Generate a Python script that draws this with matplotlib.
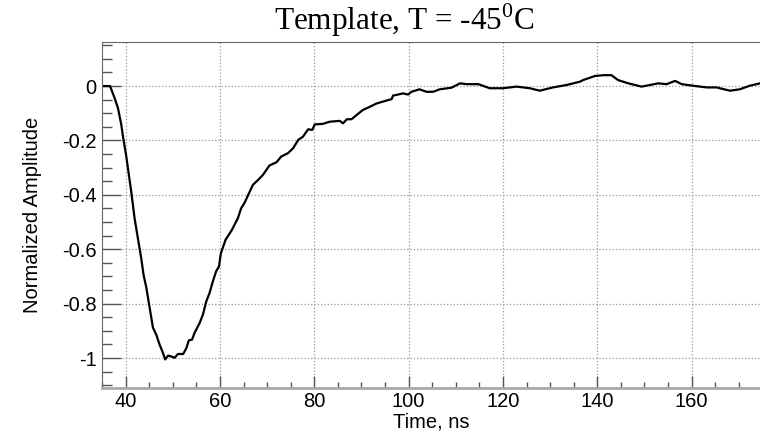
import matplotlib
matplotlib.use("Agg")
import matplotlib.pyplot as plt
from matplotlib.ticker import MultipleLocator

# Digitised template pulse (time in ns, normalised amplitude)
time_ns = [35.0, 36.7, 37.7, 38.4, 39.1, 39.4, 40.1, 40.7, 41.2, 41.9,
           42.6, 43.3, 43.8, 44.4, 45.1, 45.8, 46.5, 47.2, 47.9, 48.4,
           49.0, 49.7, 50.4, 51.1, 52.2, 52.9, 53.4, 54.1, 54.6, 55.7,
           56.4, 57.1, 57.8, 58.5, 59.2, 59.8, 60.2, 61.2, 62.5, 63.8,
           64.5, 65.2, 66.0, 67.0, 68.1, 69.1, 70.5, 72.0, 73.0, 74.4,
           75.5, 76.6, 77.6, 78.7, 79.6, 80.1, 81.8, 83.3, 85.4, 86.1,
           86.9, 87.9, 89.0, 90.3, 91.8, 93.2, 94.6, 96.4, 96.7, 97.8,
           98.8, 99.9, 100.6, 102.3, 103.8, 105.2, 106.6, 109.1, 110.9, 112.3,
           114.8, 117.2, 120.0, 122.9, 125.7, 127.8, 130.6, 133.5, 134.9, 136.3,
           137.0, 139.5, 141.3, 143.0, 144.4, 146.6, 149.4, 151.2, 152.9, 154.7,
           156.5, 157.9, 160.4, 163.2, 165.3, 168.1, 170.2, 172.3, 174.5]
amplitude = [0.0, 0.0, -0.045, -0.082, -0.143, -0.18, -0.253, -0.327, -0.388, -0.485,
             -0.559, -0.631, -0.693, -0.741, -0.815, -0.888, -0.914, -0.95, -0.98, -1.005,
             -0.991, -0.994, -0.999, -0.985, -0.985, -0.963, -0.935, -0.932, -0.908, -0.871,
             -0.84, -0.792, -0.761, -0.718, -0.681, -0.663, -0.615, -0.565, -0.53, -0.486,
             -0.449, -0.43, -0.4, -0.363, -0.345, -0.327, -0.292, -0.28, -0.259, -0.247,
             -0.229, -0.198, -0.186, -0.159, -0.161, -0.141, -0.139, -0.131, -0.128, -0.137,
             -0.122, -0.122, -0.106, -0.088, -0.076, -0.064, -0.057, -0.048, -0.035, -0.031,
             -0.027, -0.031, -0.021, -0.012, -0.021, -0.021, -0.012, -0.006, 0.010, 0.007,
             0.007, -0.008, -0.008, -0.002, -0.008, -0.017, -0.005, 0.004, 0.010, 0.016,
             0.022, 0.037, 0.040, 0.040, 0.022, 0.010, -0.002, 0.004, 0.010, 0.007,
             0.019, 0.007, 0.001, -0.005, -0.005, -0.017, -0.012, 0.001, 0.010]

x_ticks = [40, 60, 80, 100, 120, 140, 160]
y_ticks = [0, -0.2, -0.4, -0.6, -0.8, -1]
y_tick_labels = ["0", "-0.2", "-0.4", "-0.6", "-0.8", "-1"]

plt.rcParams['font.family'] = ['Liberation Sans', 'DejaVu Sans']
plt.rcParams['mathtext.fontset'] = 'custom'
plt.rcParams['mathtext.rm'] = 'Liberation Serif'

fig = plt.figure(figsize=(7.6, 4.33), dpi=100)
ax = fig.add_axes([102 / 760, 1 - 388 / 433, 1 - 102 / 760, (388 - 42) / 433])

ax.plot(time_ns, amplitude, color='black', linewidth=1.6)

ax.set_xlim(35, 174.5)
ax.set_ylim(-1.11, 0.162)
ax.set_xticks(x_ticks)
ax.set_yticks(y_ticks)
ax.set_yticklabels(y_tick_labels)
ax.xaxis.set_minor_locator(MultipleLocator(5))
ax.yaxis.set_minor_locator(MultipleLocator(0.05))

ax.grid(True, which='major', linestyle=':', color='#999999', linewidth=0.9)
ax.tick_params(axis='y', which='major', direction='in', length=14, width=1,
               color='#555555', labelsize=14.5, pad=4)
ax.tick_params(axis='y', which='minor', direction='in', length=7, width=1, color='#555555')
ax.tick_params(axis='x', which='major', direction='in', length=9, width=1,
               color='#555555', labelsize=14.5, pad=3)
ax.tick_params(axis='x', which='minor', direction='in', length=4, width=1, color='#555555')

ax.spines['right'].set_visible(False)
ax.spines['top'].set_color('#666666')
ax.spines['left'].set_color('#666666')
ax.spines['bottom'].set_color('#aaaaaa')
ax.spines['bottom'].set_linewidth(2)

ax.set_xlabel('Time, ns', fontsize=14.5, va='center')
ax.xaxis.set_label_coords(0.5, (388 - 422) / 346)
ax.set_ylabel('Normalized Amplitude', fontsize=14.5, va='center')
ax.yaxis.set_label_coords((33 - 102) / 658, 0.5)
fig.text(404 / 760, 1 - 30 / 433, r'Template, T = -45$^{\rm 0}$C', fontsize=22.5,
         fontfamily='Liberation Serif', ha='center', va='baseline')

fig.savefig('out.png', dpi=100)
